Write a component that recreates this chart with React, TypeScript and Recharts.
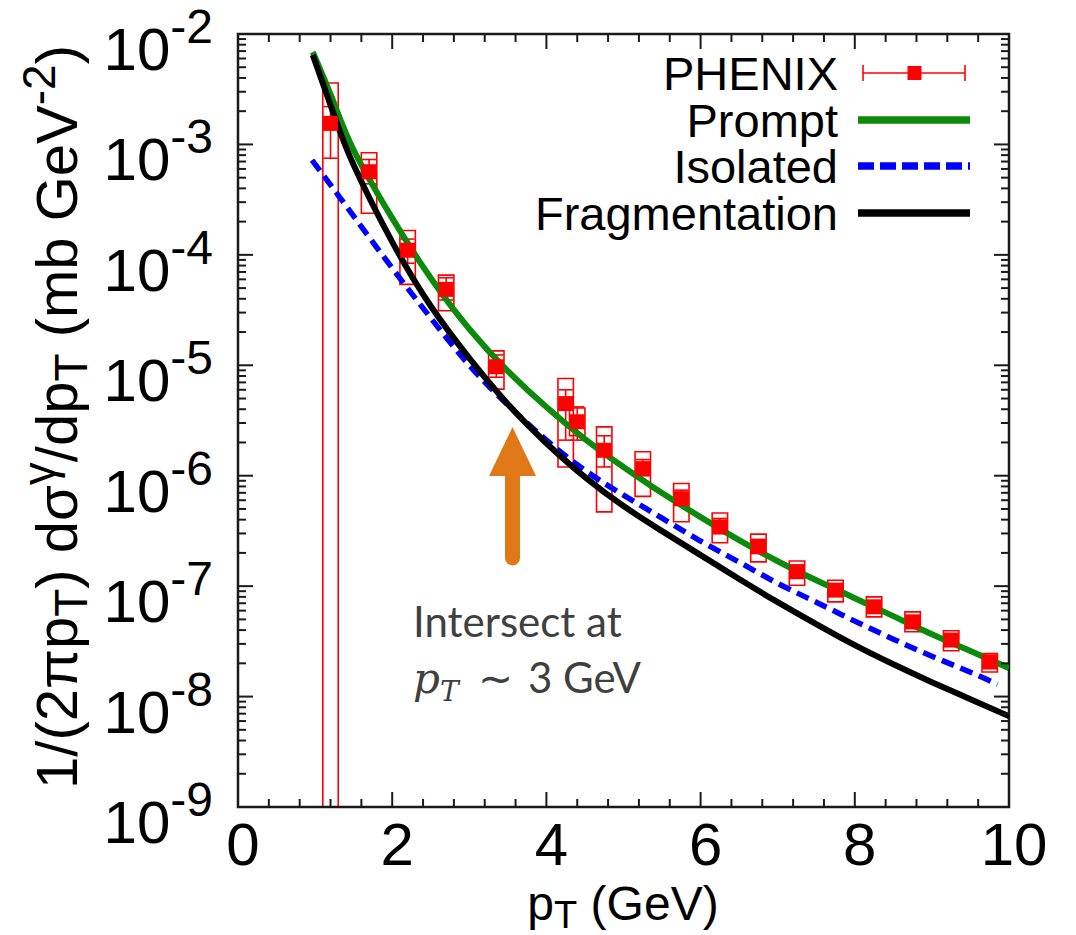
import React from 'react'
import { ComposedChart, Line, Scatter, XAxis, YAxis, ReferenceArea, ErrorBar } from 'recharts'

// theory curves
const curvePt = [0.97, 1.25, 1.5, 2, 2.5, 3, 3.5, 4, 4.5, 5, 5.5, 6, 6.5, 7, 7.5, 8, 8.5, 9, 9.5, 10]
const prompt = [
    6.87e-3, 2.32e-3, 8.89e-4, 2.15e-4, 6.17e-5, 2.13e-5, 8.86e-6, 4.18e-6, 2.15e-6, 1.2e-6,
    6.96e-7, 4.22e-7, 2.61e-7, 1.68e-7, 1.13e-7, 7.78e-8, 5.35e-8, 3.67e-8, 2.58e-8, 1.81e-8,
]
const fragmentation = [
    6.45e-3, 1.81e-3, 6.5e-4, 1.31e-4, 3.44e-5, 1.16e-5, 4.45e-6, 1.97e-6, 9.71e-7, 5.31e-7,
    3.15e-7, 1.91e-7, 1.16e-7, 7.16e-8, 4.53e-8, 2.92e-8, 1.96e-8, 1.35e-8, 9.47e-9, 6.64e-9,
]
const isolatedPt = [0.96, 1.25, 1.5, 2, 2.5, 3, 3.5, 4, 4.5, 5, 5.5, 6, 6.5, 7, 7.5, 8, 8.5, 9, 9.5, 9.85]
const isolated = [
    7.22e-4, 3.86e-4, 2.24e-4, 7.59e-5, 2.68e-5, 1.0e-5, 4.36e-6, 2.1e-6, 1.12e-6, 6.67e-7,
    4.13e-7, 2.56e-7, 1.65e-7, 1.06e-7, 7.16e-8, 4.82e-8, 3.31e-8, 2.32e-8, 1.66e-8, 1.29e-8,
]

// PHENIX points: value, systematic box, statistical error
const phenixPt = [1.2, 1.7, 2.2, 2.7, 3.35, 4.25, 4.4, 4.75, 5.25, 5.75, 6.25, 6.75, 7.25, 7.75, 8.25, 8.75, 9.25, 9.75]
const phenix = [
    1.55e-3, 5.66e-4, 1.1e-4, 4.87e-5, 9.7e-6, 4.5e-6, 3.08e-6, 1.7e-6, 1.16e-6,
    6.2e-7, 3.44e-7, 2.27e-7, 1.35e-7, 9.2e-8, 6.5e-8, 4.75e-8, 3.25e-8, 2.06e-8,
]
const sysLow = [
    1e-9, 2.38e-4, 5.4e-5, 3.12e-5, 6.08e-6, 1.2e-6, 2.3e-6, 4.7e-7, 6.5e-7,
    3.83e-7, 2.47e-7, 1.66e-7, 1.02e-7, 7.2e-8, 5.27e-8, 3.86e-8, 2.6e-8, 1.67e-8,
]
const sysHigh = [
    3.6e-3, 8.4e-4, 1.66e-4, 6.56e-5, 1.35e-5, 7.6e-6, 4.1e-6, 2.77e-6, 1.65e-6,
    8.5e-7, 4.6e-7, 2.96e-7, 1.69e-7, 1.13e-7, 8.0e-8, 5.85e-8, 3.94e-8, 2.45e-8,
]
const statLow = [
    7.5e-4, 4.4e-4, 8.4e-5, 3.9e-5, 7.8e-6, 2.1e-6, 2.1e-6, 1.2e-6, 1.0e-6,
    5.4e-7, 3.0e-7, 2.0e-7, 1.2e-7, 8.2e-8, 5.8e-8, 4.2e-8, 2.9e-8, 1.8e-8,
]
const statHigh = [
    2.2e-3, 7.3e-4, 1.39e-4, 6.2e-5, 1.24e-5, 6.0e-6, 4.2e-6, 2.3e-6, 1.4e-6,
    7.4e-7, 4.1e-7, 2.65e-7, 1.55e-7, 1.03e-7, 7.3e-8, 5.4e-8, 3.65e-8, 2.35e-8,
]

// axes
const yDecades = [-9, -8, -7, -6, -5, -4, -3, -2]
const yMinorSteps = [2, 3, 4, 5, 6, 7, 8, 9]
const xMajor = [0, 2, 4, 6, 8, 10]
const xMinorSteps = [0.4, 0.8, 1.2, 1.6]

const W = 1076
const H = 935
const PL = 238
const PR = 1009
const PT = 34
const PB = 807
const FONT = "'Liberation Sans', Arial, sans-serif"
const INK = '#1a1a1a'
const RED = '#ff0000'

const promptData = curvePt.map((x, i) => ({ x, y: prompt[i] }))
const fragData = curvePt.map((x, i) => ({ x, y: fragmentation[i] }))
const isoData = isolatedPt.map((x, i) => ({ x, y: isolated[i] }))
const phenixData = phenixPt.map((x, i) => ({
    x,
    y: phenix[i],
    err: [phenix[i] - statLow[i], statHigh[i] - phenix[i]],
}))

const yTicks: number[] = []
yDecades.forEach((e) => {
    yTicks.push(10 ** e)
    if (e < -2) yMinorSteps.forEach((m) => yTicks.push(m * 10 ** e))
})
const xTicks: number[] = []
xMajor.forEach((v) => {
    xTicks.push(v)
    if (v < 10) xMinorSteps.forEach((s) => xTicks.push(+(v + s).toFixed(1)))
})

const YTick = (props: any) => {
    const { y, payload } = props
    const v = payload.value
    const exp = Math.round(Math.log10(v))
    const major = Math.abs(v / 10 ** exp - 1) < 1e-6
    const len = major ? 15 : 8
    return (
        <g>
            <line x1={PL} x2={PL + len} y1={y} y2={y} stroke={INK} strokeWidth={2} />
            <line x1={PR} x2={PR - len} y1={y} y2={y} stroke={INK} strokeWidth={2} />
            {major && (
                <text x={213} y={y + 36} textAnchor='end' fontFamily={FONT} fontSize={60} fill='#000'>
                    <tspan>10</tspan>
                    <tspan fontSize={48} dy={-27}>{`${exp}`}</tspan>
                </text>
            )}
        </g>
    )
}

const XTick = (props: any) => {
    const { x, payload } = props
    const v = payload.value
    const major = xMajor.includes(v)
    const len = major ? 15 : 8
    return (
        <g>
            <line x1={x} x2={x} y1={PB} y2={PB - len} stroke={INK} strokeWidth={2} />
            <line x1={x} x2={x} y1={PT} y2={PT + len} stroke={INK} strokeWidth={2} />
            {major && (
                <text x={x + 5} y={865} textAnchor='middle' fontFamily={FONT} fontSize={60} fill='#000'>
                    {v}
                </text>
            )}
        </g>
    )
}

const Square = (props: any) => {
    const { cx, cy } = props
    return <rect x={cx - 7.5} y={cy - 7.5} width={15} height={15} fill={RED} />
}

export default function App() {
    const legendRows = [
        { label: 'PHENIX', y: 73 },
        { label: 'Prompt', y: 120 },
        { label: 'Isolated', y: 166 },
        { label: 'Fragmentation', y: 213 },
    ]
    return (
        <div style={{ position: 'absolute', left: 0, top: 0, width: W, height: H, background: '#fff' }}>
            <ComposedChart
                width={W}
                height={H}
                margin={{ top: PT, right: W - PR, bottom: H - PB - 100, left: PL - 230 }}
            >
                <XAxis
                    type='number'
                    dataKey='x'
                    domain={[0, 10]}
                    ticks={xTicks}
                    interval={0}
                    height={100}
                    tickSize={0}
                    tick={<XTick />}
                    tickLine={false}
                    axisLine={false}
                    allowDataOverflow
                />
                <YAxis
                    type='number'
                    dataKey='y'
                    scale='log'
                    domain={[1e-9, 1e-2]}
                    ticks={yTicks}
                    interval={0}
                    width={230}
                    tickSize={0}
                    tick={<YTick />}
                    tickLine={false}
                    axisLine={false}
                    allowDataOverflow
                />
                {phenixPt.map((x, i) => (
                    <ReferenceArea
                        key={x}
                        x1={x - 0.1}
                        x2={x + 0.1}
                        y1={sysLow[i]}
                        y2={sysHigh[i]}
                        fill='none'
                        stroke={RED}
                        strokeWidth={1.6}
                        ifOverflow='visible'
                    />
                ))}
                <Scatter data={phenixData} dataKey='y' shape={<Square />} isAnimationActive={false}>
                    <ErrorBar dataKey='err' direction='y' width={7} stroke={RED} strokeWidth={1.6} />
                </Scatter>
                <Line data={promptData} dataKey='y' type='natural' stroke='#0b8a0b' strokeWidth={6} dot={false} isAnimationActive={false} />
                <Line data={isoData} dataKey='y' type='natural' stroke='#0000ff' strokeWidth={5.5} strokeDasharray='13 7' dot={false} isAnimationActive={false} />
                <Line data={fragData} dataKey='y' type='natural' stroke='#000000' strokeWidth={6} dot={false} isAnimationActive={false} />
                <ReferenceArea x1={0} x2={10} y1={1e-9} y2={1e-2} fill='none' stroke={INK} strokeWidth={2.5} ifOverflow='visible' />
            </ComposedChart>

            <svg width={W} height={H} style={{ position: 'absolute', left: 0, top: 0, pointerEvents: 'none' }}>
                {/* axis titles */}
                <text transform='rotate(-90)' x={-417} y={77} textAnchor='middle' fontFamily={FONT} fontSize={58} fill='#000'>
                    <tspan>1/(2πp</tspan>
                    <tspan fontSize={46} dy={10}>T</tspan>
                    <tspan dy={-10}>) dσ</tspan>
                    <tspan fontSize={46} dy={-22}>γ</tspan>
                    <tspan dy={22}>/dp</tspan>
                    <tspan fontSize={46} dy={10}>T</tspan>
                    <tspan dy={-10}> (mb GeV</tspan>
                    <tspan fontSize={46} dy={-22}>-2</tspan>
                    <tspan dy={22}>)</tspan>
                </text>
                <text x={623} y={920} textAnchor='middle' fontFamily={FONT} fontSize={48} fill='#000'>
                    <tspan>p</tspan>
                    <tspan fontSize={38} dy={8}>T</tspan>
                    <tspan dy={-8}> (GeV)</tspan>
                </text>

                {/* legend */}
                {legendRows.map((r) => (
                    <text key={r.label} x={838} y={r.y + 16.5} textAnchor='end' fontFamily={FONT} fontSize={47} fill='#000'>
                        {r.label}
                    </text>
                ))}
                <line x1={863} x2={965} y1={73} y2={73} stroke={RED} strokeWidth={1.6} />
                <line x1={863} x2={863} y1={65} y2={81} stroke={RED} strokeWidth={1.6} />
                <line x1={965} x2={965} y1={65} y2={81} stroke={RED} strokeWidth={1.6} />
                <rect x={907.5} y={66} width={14} height={14} fill={RED} />
                <line x1={858} x2={970} y1={120} y2={120} stroke='#0b8a0b' strokeWidth={7.5} />
                <line x1={858} x2={970} y1={166} y2={166} stroke='#0000ff' strokeWidth={7.5} strokeDasharray='16 6' />
                <line x1={858} x2={970} y1={213} y2={213} stroke='#000' strokeWidth={7.5} />

                {/* annotation */}
                <line x1={512.5} y1={470} x2={512.5} y2={558} stroke='#e07818' strokeWidth={15} strokeLinecap='round' />
                <polygon points='512.5,427 489,476 536,476' fill='#e07818' />
                <text x={413} y={637} fontFamily="Lato, 'Open Sans', sans-serif" fontSize={42} fill='#404040'>
                    Intersect at
                </text>
                <text y={693} fontSize={42} fill='#404040'>
                    <tspan x={413} fontFamily="'DejaVu Serif', serif" fontStyle='italic'>p</tspan>
                    <tspan fontFamily="'DejaVu Serif', serif" fontStyle='italic' fontSize={28} dy={8}>T</tspan>
                    <tspan x={478} dy={-8} fontFamily="'DejaVu Sans', sans-serif">∼</tspan>
                    <tspan x={528} fontFamily="Lato, 'Open Sans', sans-serif">3 GeV</tspan>
                </text>
            </svg>
        </div>
    )
}
